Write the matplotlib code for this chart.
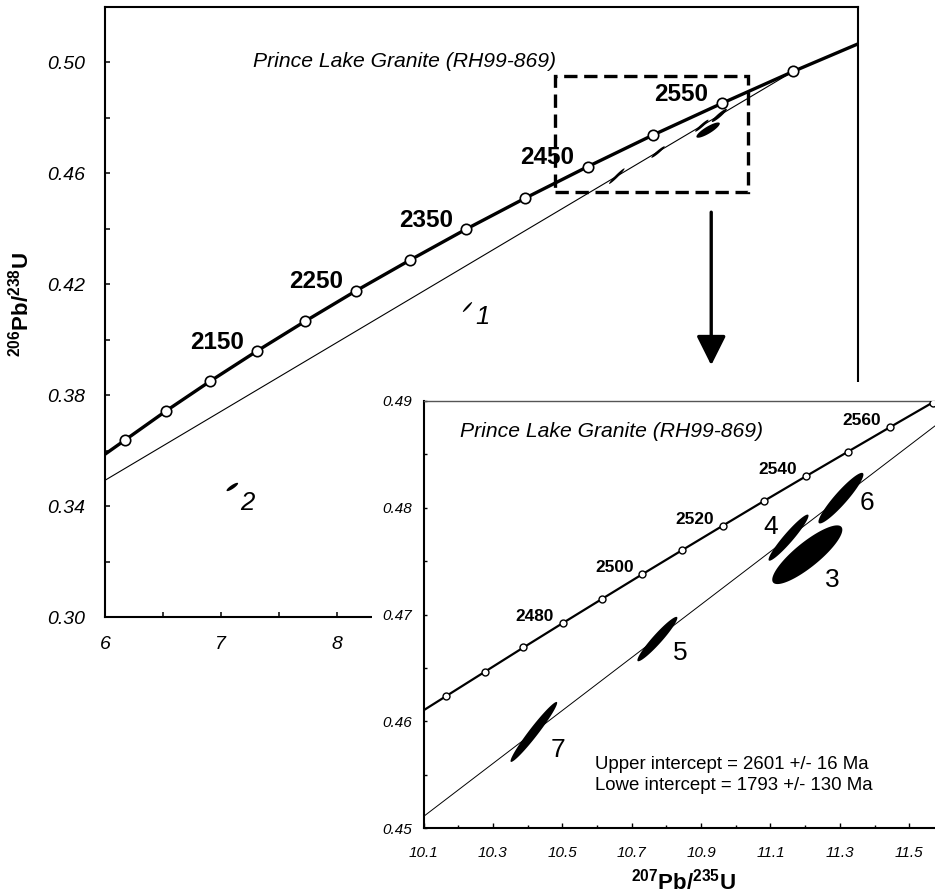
import numpy as np
import matplotlib
matplotlib.use('Agg')
import matplotlib.pyplot as plt
from matplotlib.patches import Rectangle

plt.rcParams['font.family'] = ['Liberation Sans', 'DejaVu Sans']
plt.rcParams['mathtext.fontset'] = 'custom'
plt.rcParams['mathtext.rm'] = 'Liberation Sans:bold'
plt.rcParams['mathtext.bf'] = 'Liberation Sans:bold'

# concordia, main panel: 2000-2600 Ma every 50 Ma
conc_age = [2000, 2050, 2100, 2150, 2200, 2250, 2300, 2350, 2400, 2450, 2500, 2550, 2600]
conc_x = [6.169, 6.530, 6.910, 7.311, 7.729, 8.169, 8.632, 9.118, 9.629, 10.166, 10.729, 11.322, 11.943]
conc_y = [0.3637, 0.3744, 0.3851, 0.3959, 0.4067, 0.4177, 0.4287, 0.4399, 0.4511, 0.4624, 0.4738, 0.4852, 0.4968]
conc_labeled = [2150, 2250, 2350, 2450, 2550]
conc_edge_x = [6.0, 12.5]
conc_edge_y = [0.3587, 0.5067]

# concordia, inset: 2450-2570 Ma every 10 Ma
ins_age = [2450, 2460, 2470, 2480, 2490, 2500, 2510, 2520, 2530, 2540, 2550, 2560, 2570]
ins_x = [10.166, 10.277, 10.388, 10.501, 10.615, 10.730, 10.846, 10.963, 11.081, 11.201, 11.322, 11.444, 11.567]
ins_y = [0.46237, 0.46464, 0.46691, 0.46919, 0.47147, 0.47376, 0.47604, 0.47833, 0.48063, 0.48293, 0.48523, 0.48754, 0.48985]
ins_labeled = [2480, 2500, 2520, 2540, 2560]
ins_edge_x = [10.1, 11.6]
ins_edge_y = [0.46102, 0.4905]

# discordia (lower end at plot edge, upper intercept)
disc_x = [6.0, 11.95]
disc_y = [0.3493, 0.4970]

# analyses: centre, half-extent in x and y, correlation
ell_id = ['1', '2', '3', '4', '5', '6', '7']
ell_cx = [9.129, 7.099, 11.206, 11.152, 10.774, 11.303, 10.418]
ell_cy = [0.4118, 0.3469, 0.4756, 0.4772, 0.4677, 0.4809, 0.4590]
ell_sx = [0.040, 0.050, 0.101, 0.0576, 0.0576, 0.0648, 0.0672]
ell_sy = [0.0018, 0.0015, 0.00275, 0.00216, 0.00208, 0.00237, 0.00281]
ell_rho = [0.95, 0.85, 0.85, 0.95, 0.95, 0.93, 0.97]
lab_x = [9.259, 7.227, 11.279, 11.101, 10.839, 11.377, 10.488]
lab_y = [0.4081, 0.3412, 0.4732, 0.4782, 0.4664, 0.4804, 0.4573]

# main x axis: only 6-8 are visible, the rest sits under the inset
main_xticks = [6, 6.5, 7, 7.5, 8]
main_xticklabels = ['6', '', '7', '', '8']
main_yticks = [0.30, 0.32, 0.34, 0.36, 0.38, 0.40, 0.42, 0.44, 0.46, 0.48, 0.50]
main_yticklabels = ['0.30', '', '0.34', '', '0.38', '', '0.42', '', '0.46', '', '0.50']
ins_xticks = [10.1, 10.3, 10.5, 10.7, 10.9, 11.1, 11.3, 11.5]
ins_xminor = [10.2, 10.4, 10.6, 10.8, 11.0, 11.2, 11.4]
ins_yticks = [0.45, 0.46, 0.47, 0.48, 0.49]
ins_yminor = [0.455, 0.465, 0.475, 0.485]

zoom_box = (9.888, 0.4532, 11.552, 0.4950)
arrow_x = 11.233
arrow_y = (0.4460, 0.3908)

title = 'Prince Lake Granite (RH99-869)'
intercepts = 'Upper intercept = 2601 +/- 16 Ma\nLowe intercept = 1793 +/- 130 Ma'


def ellipse_xy(cx, cy, sx, sy, rho, n=120):
    t = np.linspace(0, 2 * np.pi, n)
    x = cx + sx * np.cos(t)
    y = cy + sy * (rho * np.cos(t) + np.sqrt(1 - rho ** 2) * np.sin(t))
    return x, y


W, H = 935, 889
fig = plt.figure(figsize=(W / 100, H / 100), dpi=100)

# ---- main panel ----
ax = fig.add_axes([105 / W, (H - 617) / H, (858 - 105) / W, (617 - 7) / H])
ax.set_xlim(6, 12.5)
ax.set_ylim(0.30, 0.52)
for s in ax.spines.values():
    s.set_linewidth(1.5)

line_x = [conc_edge_x[0]] + conc_x + [conc_edge_x[1]]
line_y = [conc_edge_y[0]] + conc_y + [conc_edge_y[1]]
ax.plot(line_x, line_y, color='k', lw=2.4, zorder=3)
ax.plot(conc_x, conc_y, 'o', ms=7.5, mfc='white', mec='k', mew=1.2, zorder=4)
ax.plot(disc_x, disc_y, color='k', lw=0.8, zorder=2)
for a, x, y in zip(conc_age, conc_x, conc_y):
    if a in conc_labeled:
        ax.annotate(str(a), (x, y), xytext=(-9.4, 6.5), textcoords='offset points',
                    ha='right', va='center', fontsize=17.5, fontweight='bold')

for i in range(len(ell_id)):
    ex, ey = ellipse_xy(ell_cx[i], ell_cy[i], ell_sx[i], ell_sy[i], ell_rho[i])
    ax.fill(ex, ey, color='k', lw=0, zorder=3)
for i in range(2):
    ax.text(lab_x[i], lab_y[i], ell_id[i], fontsize=18.5, style='italic', ha='center', va='center')

ax.text(7.28, 0.5003, title, fontsize=15.2, style='italic', va='center')

bx0, by0, bx1, by1 = zoom_box
ax.add_patch(Rectangle((bx0, by0), bx1 - bx0, by1 - by0, fill=False, ec='k', lw=2.4,
                       ls=(0, (4, 2)), zorder=5))
ax.annotate('', xy=(arrow_x, arrow_y[1]), xytext=(arrow_x, arrow_y[0]),
            arrowprops=dict(arrowstyle='-|>,head_length=0.9,head_width=0.45', lw=2.4,
                            color='k', mutation_scale=20, shrinkA=0, shrinkB=0))

ax.set_xticks(main_xticks, main_xticklabels, fontsize=14, fontstyle='italic')
ax.set_yticks(main_yticks, main_yticklabels, fontsize=14, fontstyle='italic')
ax.tick_params(axis='y', direction='in', length=3.6, width=1.1, pad=14)
ax.tick_params(axis='x', direction='in', length=3.6, width=1.1, pad=13.5)

fig.text(21 / W, (H - 305) / H, r'$^{\mathbf{206}}$Pb/$^{\mathbf{238}}$U', rotation=90,
         ha='center', va='center', fontsize=16, fontweight='bold')

# white backing for the inset
fig.patches.append(Rectangle((372 / W, 0), 1, (H - 382) / H, transform=fig.transFigure,
                             fc='white', ec='none', zorder=1))

# ---- inset ----
axi = fig.add_axes([423.5 / W, (H - 828) / H, (944 - 423.5) / W, (828 - 401) / H], zorder=2)
axi.set_xlim(10.1, 11.6)
axi.set_ylim(0.45, 0.49)
axi.spines['left'].set_linewidth(1.5)
axi.spines['bottom'].set_linewidth(1.5)
axi.spines['top'].set_linewidth(1.0)
axi.spines['top'].set_color('#555555')

ax_line_x = [ins_edge_x[0]] + ins_x + [ins_edge_x[1]]
ax_line_y = [ins_edge_y[0]] + ins_y + [ins_edge_y[1]]
axi.plot(ax_line_x, ax_line_y, color='k', lw=1.6, zorder=3)
axi.plot(ins_x, ins_y, 'o', ms=5, mfc='white', mec='k', mew=1.0, zorder=4)
axi.plot(disc_x, disc_y, color='k', lw=0.7, zorder=2)
for a, x, y in zip(ins_age, ins_x, ins_y):
    if a in ins_labeled:
        axi.annotate(str(a), (x, y), xytext=(-6.1, 4.7), textcoords='offset points',
                     ha='right', va='center', fontsize=12.4, fontweight='bold')

for i in range(2, len(ell_id)):
    ex, ey = ellipse_xy(ell_cx[i], ell_cy[i], ell_sx[i], ell_sy[i], ell_rho[i])
    axi.fill(ex, ey, color='k', lw=0, zorder=3)
    axi.text(lab_x[i], lab_y[i], ell_id[i], fontsize=19, ha='center', va='center')

axi.text(10.204, 0.4871, title, fontsize=15.2, style='italic', va='center')
axi.text(10.593, 0.4550, intercepts, fontsize=13.4, va='center', ha='left', linespacing=1.3)

axi.set_xticks(ins_xticks, [f'{v:.1f}' for v in ins_xticks], fontsize=11, fontstyle='italic')
axi.set_xticks(ins_xminor, minor=True)
axi.set_yticks(ins_yticks, [f'{v:.2f}' for v in ins_yticks], fontsize=11, fontstyle='italic')
axi.set_yticks(ins_yminor, minor=True)
axi.tick_params(axis='x', which='major', direction='in', length=3.6, width=1.0, pad=12.7)
axi.tick_params(axis='x', which='minor', direction='in', length=2.2, width=1.0)
axi.tick_params(axis='y', which='both', direction='in', length=2.2, width=1.0, pad=8.4)

fig.text(683.75 / W, -0.5 / H, r'$^{\mathbf{207}}$Pb/$^{\mathbf{235}}$U',
         ha='center', va='baseline', fontsize=16, fontweight='bold')

fig.savefig('out.png', dpi=100)
